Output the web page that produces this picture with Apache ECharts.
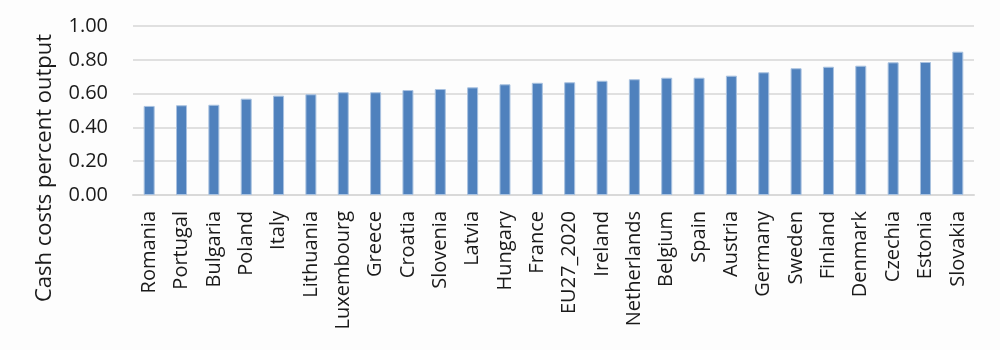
<!DOCTYPE html>
<html>
<head>
<meta charset="utf-8">
<script src="https://cdn.jsdelivr.net/npm/echarts@6/dist/echarts.min.js"></script>
<style>
html,body{margin:0;padding:0;background:#fdfdfd;}
#chart{width:1000px;height:350px;}
</style>
</head>
<body>
<div id="chart"></div>
<script>
var categories = ["Romania","Portugal","Bulgaria","Poland","Italy","Lithuania","Luxembourg","Greece","Croatia","Slovenia","Latvia","Hungary","France","EU27_2020","Ireland","Netherlands","Belgium","Spain","Austria","Germany","Sweden","Finland","Denmark","Czechia","Estonia","Slovakia"];
var values = [0.527,0.531,0.534,0.570,0.588,0.596,0.608,0.608,0.621,0.627,0.637,0.655,0.664,0.667,0.676,0.685,0.694,0.694,0.706,0.726,0.750,0.759,0.765,0.785,0.787,0.848];
var yTitle = "Cash costs percent output";

var chart = echarts.init(document.getElementById('chart'), null, {renderer:'canvas'});
chart.setOption({
  backgroundColor: '#fdfdfd',
  animation: false,
  textStyle: {fontFamily: 'Open Sans'},
  grid: {left: 133, right: 26, top: 26, bottom: 155},
  graphic: [{
    type: 'text',
    x: 45, y: 168,
    rotation: Math.PI / 2,
    style: {
      text: yTitle,
      font: '22px "Open Sans"',
      fill: '#1a1a1a',
      align: 'center',
      verticalAlign: 'middle'
    }
  }],
  xAxis: {
    type: 'category',
    data: categories,
    axisLine: {show: true, lineStyle: {color: '#d9d9d9', width: 2}},
    axisTick: {show: false},
    axisLabel: {rotate: 90, interval: 0, margin: 16, fontSize: 20, color: '#1a1a1a', fontFamily: 'Open Sans'}
  },
  yAxis: {
    type: 'value',
    min: 0, max: 1, interval: 0.2,
    axisLine: {show: false},
    axisTick: {show: false},
    splitLine: {lineStyle: {color: '#e0e0e0', width: 2}},
    axisLabel: {margin: 25, fontSize: 20, color: '#1a1a1a', fontFamily: 'Open Sans',
      formatter: function (v) { return v.toFixed(2); }}
  },
  series: [{
    type: 'bar',
    data: values,
    barWidth: 11,
    itemStyle: {color: '#4f81bd', borderColor: '#a9c2e0', borderWidth: 1}
  }]
});
</script>
</body>
</html>
